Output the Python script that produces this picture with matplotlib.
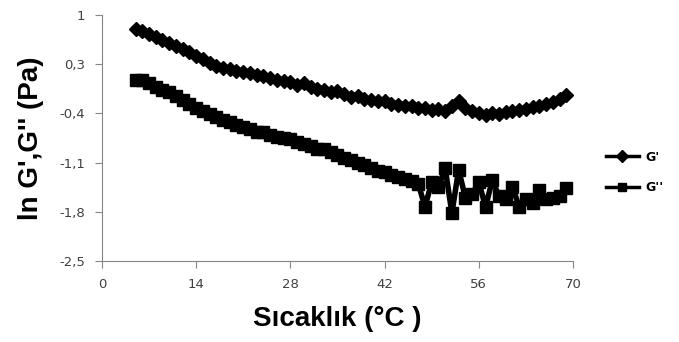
import numpy as np
import matplotlib.pyplot as plt

# temperature (°C) and ln moduli
temp = list(range(5, 70))

g1 = [0.80, 0.77, 0.73, 0.69, 0.65, 0.60, 0.56, 0.52, 0.47, 0.42,
      0.37, 0.32, 0.28, 0.25, 0.23, 0.21, 0.19, 0.17, 0.15, 0.13,
      0.11, 0.08, 0.06, 0.04, 0.01, 0.03, -0.03, -0.05, -0.07, -0.09,
      -0.08, -0.13, -0.16, -0.15, -0.19, -0.21, -0.23, -0.22, -0.26, -0.28,
      -0.30, -0.29, -0.32, -0.32, -0.35, -0.34, -0.36, -0.30, -0.23, -0.33,
      -0.37, -0.39, -0.42, -0.40, -0.41, -0.38, -0.37, -0.35, -0.34, -0.31,
      -0.29, -0.27, -0.24, -0.20, -0.14]

g2 = [0.07, 0.08, 0.03, -0.02, -0.06, -0.10, -0.15, -0.21, -0.27, -0.32,
      -0.36, -0.41, -0.45, -0.49, -0.52, -0.56, -0.59, -0.62, -0.66, -0.67,
      -0.71, -0.73, -0.75, -0.76, -0.80, -0.84, -0.86, -0.90, -0.91, -0.95,
      -0.99, -1.04, -1.06, -1.10, -1.13, -1.17, -1.22, -1.24, -1.28, -1.31,
      -1.34, -1.36, -1.40, -1.73, -1.38, -1.45, -1.18, -1.82, -1.20, -1.60,
      -1.55, -1.38, -1.73, -1.35, -1.58, -1.62, -1.45, -1.73, -1.62, -1.67,
      -1.49, -1.62, -1.60, -1.58, -1.46]

xticks = [0, 14, 28, 42, 56, 70]
yticks = [-2.5, -1.8, -1.1, -0.4, 0.3, 1]
ytick_labels = ["-2,5", "-1,8", "-1,1", "-0,4", "0,3", "1"]

fig = plt.figure(figsize=(6.79, 3.42), dpi=100)
ax = fig.add_axes([0.150, 0.237, 0.694, 0.719])

ax.plot(temp, g1, '-D', color="black", markersize=7.5, linewidth=5, label="G'")
ax.plot(temp, g2, '-s', color="black", markersize=8.5, linewidth=4, label="G''")

ax.set_xlim(0, 70)
ax.set_ylim(-2.5, 1)
ax.set_xticks(xticks)
ax.set_xticklabels([str(t) for t in xticks])
ax.set_yticks(yticks)
ax.set_yticklabels(ytick_labels)

for side in ["top", "right"]:
    ax.spines[side].set_visible(False)
for side in ["left", "bottom"]:
    ax.spines[side].set_color("#868686")
ax.tick_params(axis="both", direction="out", length=5, color="#868686",
               labelsize=9.5, labelcolor="#404040", pad=7)

ax.set_xlabel("Sıcaklık (°C )", fontsize=20, fontweight="bold",
              family="Liberation Sans", labelpad=11)
ax.set_ylabel("ln G',G'' (Pa)", fontsize=20, fontweight="bold",
              family="Liberation Sans", labelpad=11)

# legend without frame at the right of the plot
leg = ax.legend(loc="center left", bbox_to_anchor=(1.045, 0.36), frameon=False,
                handlelength=2.7, labelspacing=1.4, handletextpad=0.5,
                prop={"size": 9, "weight": "bold", "family": "DejaVu Sans"})
for h in leg.legend_handles:
    h.set_markersize(6)
    h.set_linewidth(2.5)

fig.savefig("out.png", dpi=100)
